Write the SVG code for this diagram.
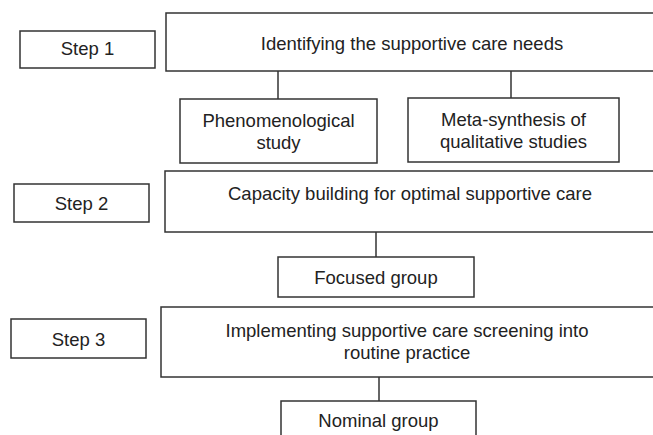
<svg xmlns="http://www.w3.org/2000/svg" width="653" height="435" viewBox="0 0 653 435">
<style>
.box{fill:#fff;stroke:#333;stroke-width:1.5}
.t{font-family:"Liberation Sans",Arial,sans-serif;font-size:18.5px;fill:#222;text-anchor:middle}
.c{stroke:#333;stroke-width:1.5;fill:none}
</style>
<rect width="653" height="435" fill="#fff"/>
<g id="connectors">
<line class="c" x1="278" y1="71" x2="278" y2="99"/>
<line class="c" x1="511" y1="71" x2="511" y2="98"/>
<line class="c" x1="376" y1="232" x2="376" y2="257"/>
<line class="c" x1="379" y1="377" x2="379" y2="401"/>
</g>
<g id="step1"><rect class="box" x="20" y="31" width="135" height="37"/><text class="t" x="87.5" y="55">Step 1</text></g>
<g id="need"><rect class="box" x="166" y="13" width="500" height="58"/><text class="t" x="412" y="49.5">Identifying the supportive care needs</text></g>
<g id="pheno"><rect class="box" x="180" y="99" width="197" height="64"/><text class="t" x="278.5" y="126.5">Phenomenological</text><text class="t" x="278.5" y="148.5">study</text></g>
<g id="meta"><rect class="box" x="408" y="98" width="211" height="64"/><text class="t" x="513.5" y="125.5">Meta-synthesis of</text><text class="t" x="513.5" y="147.5">qualitative studies</text></g>
<g id="step2"><rect class="box" x="14" y="184" width="135" height="38"/><text class="t" x="81.5" y="209.5">Step 2</text></g>
<g id="capacity"><rect class="box" x="165" y="171" width="500" height="61"/><text class="t" x="410" y="199.5">Capacity building for optimal supportive care</text></g>
<g id="focused"><rect class="box" x="278" y="257" width="196" height="40"/><text class="t" x="376" y="283.5">Focused group</text></g>
<g id="step3"><rect class="box" x="11" y="319" width="135" height="39"/><text class="t" x="78.5" y="345.5">Step 3</text></g>
<g id="implement"><rect class="box" x="161" y="307" width="500" height="70"/><text class="t" x="407" y="336.5">Implementing supportive care screening into</text><text class="t" x="407" y="358.5">routine practice</text></g>
<g id="nominal"><rect class="box" x="281" y="401" width="195" height="50"/><text class="t" x="378.5" y="426.5">Nominal group</text></g>
</svg>
